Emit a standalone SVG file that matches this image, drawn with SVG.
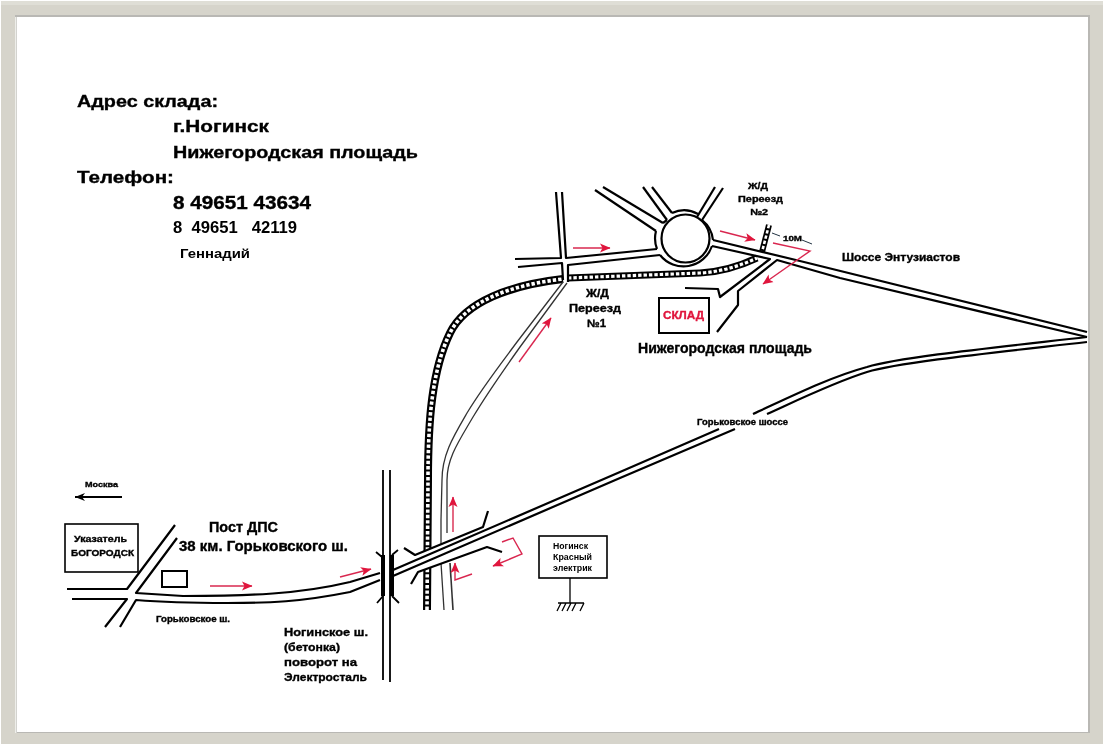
<svg xmlns="http://www.w3.org/2000/svg" width="1104" height="747" viewBox="0 0 1104 747">
<defs>
<filter id="soft" x="-5%" y="-5%" width="110%" height="110%"><feGaussianBlur stdDeviation="0.45"/></filter>
<marker id="ar" markerWidth="11" markerHeight="10" refX="10" refY="5" orient="auto" markerUnits="userSpaceOnUse"><path d="M0,0.5 L10.500,5 L0,9.500 L2.500,5 Z" fill="#e0143c"/></marker>
<marker id="ak" markerWidth="11" markerHeight="9" refX="10" refY="4.5" orient="auto" markerUnits="userSpaceOnUse"><path d="M0,0.5 L10,4.5 L0,8.5 L3,4.5 Z" fill="#000"/></marker>
</defs>
<style>
.r{fill:none;stroke:#000;stroke-width:2.2;stroke-linejoin:round}
.n{fill:none;stroke:#000;stroke-width:1.8}
.g{fill:none;stroke:#333;stroke-width:1.3}
.a{fill:none;stroke:#d9274f;stroke-width:1.4;marker-end:url(#ar)}
.rb{fill:none;stroke:#000;stroke-width:8}
.rw{fill:none;stroke:#fff;stroke-width:3.6;stroke-dasharray:3.4 2}
.box{fill:#fff;stroke:#000;stroke-width:2}
text{font-family:"Liberation Sans",Arial,sans-serif;font-weight:bold;fill:#000;stroke:#000;stroke-width:.35;white-space:pre}
.s{stroke-width:0;font-weight:bold}
</style>
<rect id="frame" x="1" y="1" width="1102" height="743" fill="#d6d4cb"/>
<rect x="1" y="1" width="1102" height="4" fill="#dfded6"/>
<rect x="15" y="15" width="1075" height="718" fill="#b9b8b4"/>
<rect x="15" y="17" width="1.5" height="716" fill="#eeeeea"/>
<rect x="17" y="17" width="1071" height="715" fill="#fff"/>
<g filter="url(#soft)">
<g id="connectors">
<path class="rb" d="M427,610 L428,480 C428,420 432,370 450,333 C465,302 510,285 563,279"/>
<path class="rw" d="M427,610 L428,480 C428,420 432,370 450,333 C465,302 510,285 563,279"/>
<path class="rb" d="M568,278 L700,273 C720,272 740,266 757,258" style="stroke-width:7"/>
<path class="rw" d="M568,278 L700,273 C720,272 740,266 757,258" style="stroke-width:3.200"/>
<path class="rb" d="M769,225 L762,252" style="stroke-width:6"/>
<path class="rw" d="M769,225 L762,252" style="stroke-width:2.600"/>
<path class="r" d="M556,192 L561,258 L515,259"/>
<path class="r" d="M562,192 L566,258 L657,249"/>
<path class="r" d="M518,267 L562,263 L563,280"/>
<path class="r" d="M568,282 L568,265 L660,255"/>
<path class="r" d="M595,190 L656,231"/>
<path class="r" d="M603,187 L663,223"/>
<path class="r" d="M643,187 L667,220"/>
<path class="r" d="M652,187 L672,213"/>
<path class="r" d="M715,187 L697,217"/>
<path class="r" d="M723,188 L702,220"/>
<path class="r" d="M713,240 L800,261 L1087,332"/>
<path class="r" d="M712,246 L770,259 L720,297 L718,289 L685,288"/>
<path class="r" d="M717,332 L738,305 L738,291 L777,260 L840,278 L1087,337"/>
<path class="r" d="M1087,337 C1000,347 900,357 867,367 C830,377 790,397 753,414"/>
<path class="r" d="M1087,342 C1000,352 900,362 867,372 C835,382 800,399 767,414"/>
<path class="g" d="M563,282 L517,342 C500,365 482,388 467,413 C453,437 442,455 442,480 L441,520 L441,563 L444,610"/>
<path class="g" d="M567,283 L520,347 C505,368 488,392 473,417 C459,441 447,458 447,480 L447,533"/>
<path class="g" d="M450,563 L453,610" style="stroke-width:1.600"/>
<path d="M412,556 L483,527 L487,547 L418,572 Z" fill="#fff"/>
<path class="r" d="M719,429 L620,472 L393,570"/>
<path class="r" d="M735,429 L620,478 L393,576"/>
<path class="r" d="M380,573 L350,582 C300,594 250,596 183,596 L136,593 L177,538"/>
<path class="r" d="M380,580 L350,592 C300,602 270,603 227,603 C190,603 160,602 136,600 L120,627"/>
<path class="r" d="M175,525 L127,589 L67,589"/>
<path class="r" d="M72,599 L127,599 L105,627"/>
<path class="n" d="M383,470 L383,680"/>
<path class="n" d="M390,470 L390,682"/>
<path d="M383,555 L383,596 M392,555 L392,596" fill="none" stroke="#000" stroke-width="4"/>
<path class="n" d="M376,552 L382,557 M398,550 L392,555 M377,603 L383,596 M399,603 L392,596"/>
<path class="r" d="M488,511 L483,527 L415,555 L404,548"/>
<path class="r" d="M502,552 L487,547 L418,572 L411,584"/>
<path class="a" d="M210,586 L252,586"/>
<path class="a" d="M340,577 L371,569"/>
<path class="a" d="M453,532 L453,497"/>
<path class="a" d="M472,574 L455,580 L455,563"/>
<path class="a" d="M502,542 L513,538 L522,554 L493,566"/>
<path class="a" d="M519,362 L551,318"/>
<path class="a" d="M573,248 L610,248"/>
<path class="a" d="M720,231 L755,240"/>
<path class="a" d="M773,243 L810,251 L763,284"/>
<path fill="none" stroke="#000" stroke-width="1.800" marker-end="url(#ak)" d="M122,497 L75,497"/>
<path fill="none" stroke="#234" stroke-width="1" d="M772,233 L780,236 M802,240 L812,244"/>
</g>
<g id="roundabout">
<circle cx="685.500" cy="238.500" r="24" fill="#fff" stroke="#000" stroke-width="2.200"/>
<path class="r" d="M656,231 A29.700,29.700 0 0 0 657,249 M663,223 L667,220 M672,213 A29,29 0 0 1 698,214 M702,220 A29,29 0 0 1 713,240 M660,255 A30,30 0 0 0 712,246"/>
</g>
<g id="sign-bogorodsk">
<rect class="box" x="65" y="524" width="73" height="48" style="stroke-width:1.6"/>
<text x="74" y="542" font-size="9" textLength="53" lengthAdjust="spacingAndGlyphs">Указатель</text>
<text x="71" y="556" font-size="9" textLength="63" lengthAdjust="spacingAndGlyphs">БОГОРОДСК</text>
</g>
<g id="post-dps-box"><rect class="box" x="162" y="571" width="25" height="16"/></g>
<g id="sign-elektrik">
<rect class="box" x="539" y="536" width="68" height="42" style="stroke-width:1.6"/>
<text class="s" x="553" y="549" font-size="8.500" textLength="35" lengthAdjust="spacingAndGlyphs">Ногинск</text>
<text class="s" x="553" y="560" font-size="8.500" textLength="39" lengthAdjust="spacingAndGlyphs">Красный</text>
<text class="s" x="553" y="571" font-size="8.500" textLength="39" lengthAdjust="spacingAndGlyphs">электрик</text>
<path class="n" d="M570,578 L570,603 M558,603 L584,603 M561,603 L557,611 M566,603 L562,611 M571,603 L567,611 M576,603 L572,611 M584,603 L580,611" style="stroke-width:1.3"/>
</g>
<g id="warehouse">
<rect class="box" x="659" y="298" width="50" height="35"/>
<text x="663" y="319" font-size="11.500" textLength="41" lengthAdjust="spacingAndGlyphs" style="fill:#e0143c;stroke:#e0143c">СКЛАД</text>
</g>
<g id="labels">
<text x="77" y="107" font-size="17" textLength="141" lengthAdjust="spacingAndGlyphs">Адрес склада:</text>
<text x="173" y="132" font-size="17" textLength="96" lengthAdjust="spacingAndGlyphs">г.Ногинск</text>
<text x="173" y="158" font-size="17" textLength="245" lengthAdjust="spacingAndGlyphs">Нижегородская площадь</text>
<text x="77" y="183" font-size="17" textLength="97" lengthAdjust="spacingAndGlyphs">Телефон:</text>
<text x="173" y="209" font-size="18" textLength="138" lengthAdjust="spacingAndGlyphs">8 49651 43634</text>
<text class="s" x="173" y="233" font-size="16" textLength="124" lengthAdjust="spacingAndGlyphs">8  49651   42119</text>
<text class="s" x="180" y="258" font-size="13" textLength="70" lengthAdjust="spacingAndGlyphs">Геннадий</text>
<text x="85" y="487" font-size="8" textLength="33" lengthAdjust="spacingAndGlyphs">Москва</text>
<text x="209" y="532" font-size="14" textLength="69" lengthAdjust="spacingAndGlyphs">Пост ДПС</text>
<text x="179" y="551" font-size="14" textLength="169" lengthAdjust="spacingAndGlyphs">38 км. Горьковского ш.</text>
<text x="156" y="622" font-size="8.500" textLength="74" lengthAdjust="spacingAndGlyphs">Горьковское ш.</text>
<text x="284" y="636" font-size="11" textLength="84" lengthAdjust="spacingAndGlyphs">Ногинское ш.</text>
<text x="284" y="651" font-size="11" textLength="56" lengthAdjust="spacingAndGlyphs">(бетонка)</text>
<text x="284" y="666" font-size="11" textLength="73" lengthAdjust="spacingAndGlyphs">поворот на</text>
<text x="284" y="681" font-size="11" textLength="83" lengthAdjust="spacingAndGlyphs">Электросталь</text>
<text x="697" y="425" font-size="8.500" textLength="91" lengthAdjust="spacingAndGlyphs">Горьковское шоссе</text>
<text x="748" y="189" font-size="9" textLength="20" lengthAdjust="spacingAndGlyphs">Ж/Д</text>
<text x="738" y="202" font-size="9" textLength="45" lengthAdjust="spacingAndGlyphs">Переезд</text>
<text x="750" y="215" font-size="9" textLength="18" lengthAdjust="spacingAndGlyphs">№2</text>
<text x="586" y="297" font-size="10.500" textLength="23" lengthAdjust="spacingAndGlyphs">Ж/Д</text>
<text x="569" y="312" font-size="10.500" textLength="52" lengthAdjust="spacingAndGlyphs">Переезд</text>
<text x="587" y="327" font-size="10.500" textLength="19" lengthAdjust="spacingAndGlyphs">№1</text>
<text x="783" y="241" font-size="8" textLength="19" lengthAdjust="spacingAndGlyphs">10М</text>
<text x="842" y="261" font-size="10.500" textLength="118" lengthAdjust="spacingAndGlyphs">Шоссе Энтузиастов</text>
<text x="638" y="353" font-size="14" textLength="174" lengthAdjust="spacingAndGlyphs">Нижегородская площадь</text>
</g>
</g>
</svg>
